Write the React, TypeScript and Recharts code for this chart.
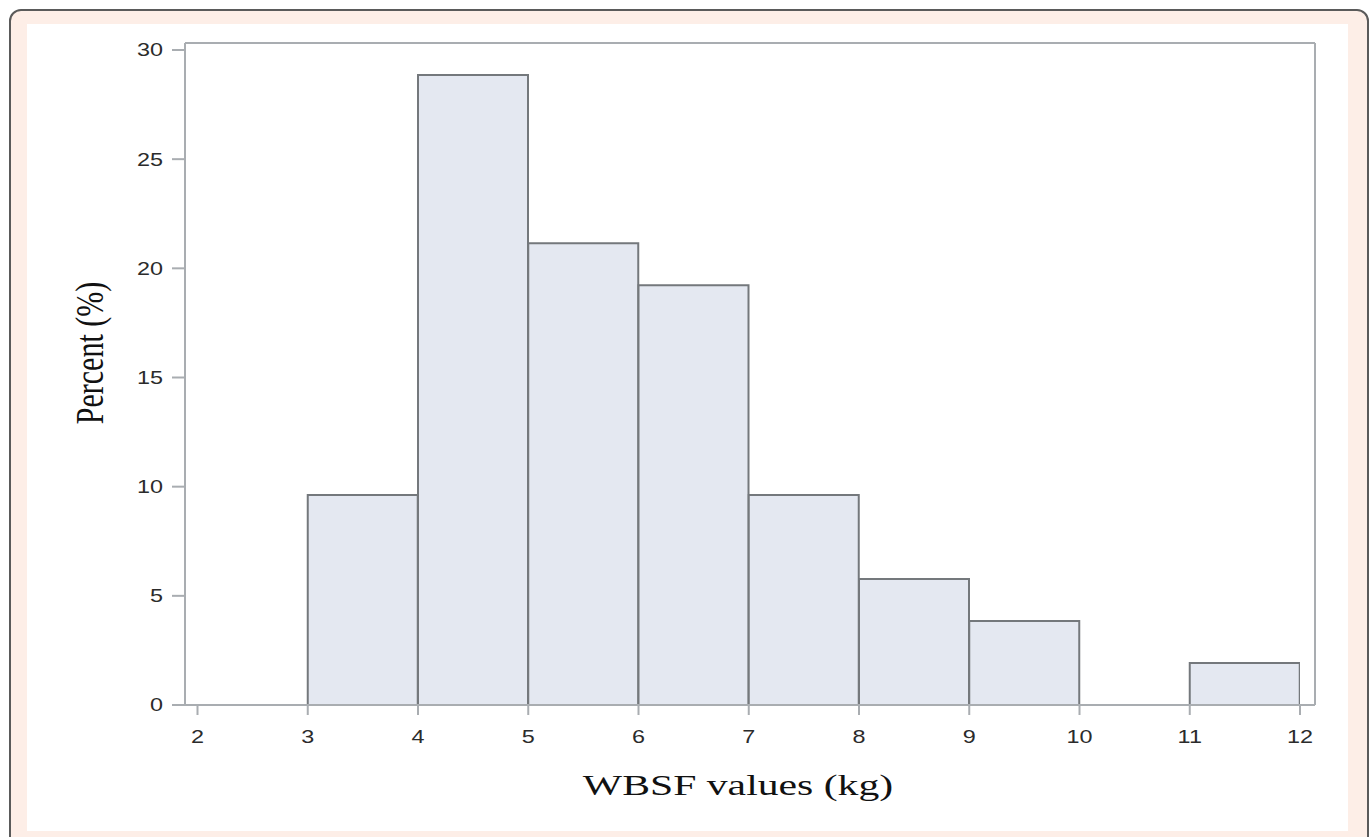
import { Bar, ComposedChart, XAxis, YAxis } from "recharts";

// WBSF histogram, percent per 1 kg bin (bin start values)
const binStarts = [3, 4, 5, 6, 7, 8, 9, 10, 11];
const percents = [9.62, 28.85, 21.15, 19.23, 9.62, 5.77, 3.85, 0, 1.92];
const xTicks = [2, 3, 4, 5, 6, 7, 8, 9, 10, 11, 12];
const yTicks = [0, 5, 10, 15, 20, 25, 30];

const data = binStarts.map((start, i) => ({ mid: start + 0.5, percent: percents[i] }));

const frame = "#a9adb1";
const xPad = { left: 12.5, right: 15 };

function Tick({ x, y, payload, anchor, dy }: any) {
  return (
    <g transform={`translate(${x},${y}) scale(1.3,1)`}>
      <text
        x={0}
        y={0}
        dy={dy}
        textAnchor={anchor}
        fontFamily="'Liberation Sans', Arial, sans-serif"
        fontSize={18}
        fill="#2b2b2b"
      >
        {payload.value}
      </text>
    </g>
  );
}

export default function App() {
  return (
    <div style={{ position: "absolute", left: 0, top: 0, width: 1372, height: 837, overflow: "hidden", background: "#fff" }}>
      <div
        style={{
          position: "absolute",
          left: 9,
          top: 9,
          width: 1356,
          height: 900,
          border: "2px solid #5a5a5a",
          borderRadius: 12,
          background: "#fdeee7",
        }}
      />
      <div style={{ position: "absolute", left: 27, top: 24, width: 1321, height: 807, background: "#fff" }} />

      <div style={{ position: "absolute", left: 0, top: 0 }}>
        <ComposedChart width={1372} height={837} data={data} barCategoryGap={0} barGap={0} margin={{ top: 42, right: 56, bottom: 92, left: 125 }}>
          <XAxis
            dataKey="mid"
            type="number"
            domain={[2, 12]}
            ticks={xTicks}
            allowDataOverflow
            padding={xPad}
            height={40}
            tick={(p: any) => <Tick {...p} anchor="middle" dy="0.71em" />}
            tickSize={10}
            tickMargin={15}
            tickLine={{ stroke: frame, strokeWidth: 2 }}
            axisLine={{ stroke: frame, strokeWidth: 2 }}
          />
          <XAxis xAxisId="top" orientation="top" height={1} tick={false} tickLine={false} axisLine={{ stroke: frame, strokeWidth: 2 }} />
          <YAxis
            domain={[0, 30]}
            ticks={yTicks}
            padding={{ top: 7 }}
            width={60}
            tick={(p: any) => <Tick {...p} anchor="end" dy="0.355em" />}
            tickSize={13}
            tickMargin={9}
            tickLine={{ stroke: frame, strokeWidth: 2 }}
            axisLine={{ stroke: frame, strokeWidth: 2 }}
          />
          <YAxis yAxisId="right" orientation="right" width={1} tick={false} tickLine={false} axisLine={{ stroke: frame, strokeWidth: 2 }} />
          <Bar dataKey="percent" fill="#e4e8f1" stroke="#74787c" strokeWidth={2} isAnimationActive={false} />
        </ComposedChart>
      </div>

      <div
        style={{
          position: "absolute",
          left: 738,
          top: 770,
          fontFamily: "'Liberation Serif', 'Times New Roman', serif",
          fontSize: 30,
          lineHeight: "30px",
          color: "#111",
          whiteSpace: "nowrap",
          transform: "translateX(-50%) scaleX(1.39)",
        }}
      >
        WBSF values (kg)
      </div>

      <div style={{ position: "absolute", left: 90, top: 353, width: 0, height: 0 }}>
        <div
          style={{
            position: "absolute",
            left: 0,
            top: 0,
            fontFamily: "'Liberation Serif', 'Times New Roman', serif",
            fontSize: 30,
            lineHeight: "30px",
            color: "#111",
            whiteSpace: "nowrap",
            transform: "translate(-50%, -50%) scaleX(1.33) rotate(-90deg)",
          }}
        >
          Percent (%)
        </div>
      </div>
    </div>
  );
}
